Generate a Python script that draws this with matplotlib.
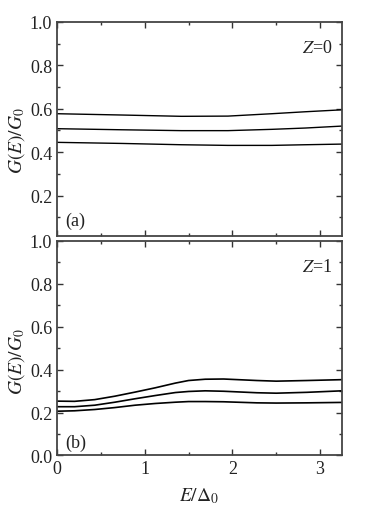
import matplotlib
matplotlib.use('Agg')
import matplotlib.pyplot as plt
from matplotlib.ticker import MultipleLocator, FormatStrFormatter

plt.rcParams['font.family'] = ['Liberation Serif', 'DejaVu Serif']
plt.rcParams['mathtext.fontset'] = 'stix'

# panel (a), Z=0
e_a = [0, 0.74, 1.42, 1.95, 2.45, 2.83, 3.25]
g_a_top = [0.577, 0.571, 0.565, 0.566, 0.577, 0.586, 0.595]
g_a_mid = [0.508, 0.503, 0.499, 0.499, 0.505, 0.511, 0.520]
g_a_bot = [0.445, 0.440, 0.434, 0.431, 0.431, 0.434, 0.437]

# panel (b), Z=1
e_b = [0, 0.2, 0.43, 0.66, 0.89, 1.12, 1.35, 1.5, 1.69, 1.9, 2.28, 2.5, 2.85, 3.25]
g_b_top = [0.253, 0.252, 0.260, 0.276, 0.295, 0.315, 0.337, 0.349, 0.355, 0.356, 0.349, 0.346, 0.349, 0.353]
g_b_mid = [0.227, 0.227, 0.234, 0.248, 0.264, 0.279, 0.293, 0.298, 0.301, 0.299, 0.292, 0.290, 0.294, 0.301]
g_b_bot = [0.206, 0.208, 0.214, 0.223, 0.234, 0.242, 0.248, 0.251, 0.251, 0.250, 0.245, 0.244, 0.245, 0.247]

fig = plt.figure(figsize=(3.8, 5.1), dpi=100)
ax1 = fig.add_axes([0.15, 0.536, 0.75, 0.419])
ax2 = fig.add_axes([0.15, 0.105, 0.75, 0.421])

for ax in (ax1, ax2):
    ax.set_xlim(0, 3.25)
    ax.xaxis.set_major_locator(MultipleLocator(1))
    ax.xaxis.set_minor_locator(MultipleLocator(0.5))
    ax.yaxis.set_major_locator(MultipleLocator(0.2))
    ax.yaxis.set_minor_locator(MultipleLocator(0.1))
    ax.tick_params(which='both', direction='in', top=True, right=True, labelsize=13,
                   width=1.0, color='#333333', labelcolor='#222222')
    ax.tick_params(which='major', length=4)
    ax.tick_params(which='minor', length=2.5)
    for s in ax.spines.values():
        s.set_linewidth(1.3)
        s.set_color('#444444')
    ax.yaxis.set_major_formatter(FormatStrFormatter('%.1f'))

for g in (g_a_top, g_a_mid, g_a_bot):
    ax1.plot(e_a, g, color='black', lw=1.0)
for g in (g_b_top, g_b_mid, g_b_bot):
    ax2.plot(e_b, g, color='black', lw=1.2)

ax1.set_ylim(0.015, 1.0)
ax1.set_yticks([0.2, 0.4, 0.6, 0.8, 1.0])
ax1.tick_params(labelbottom=False)
ax2.set_ylim(0, 1.0)

ax1.set_ylabel(r'$G(E)/G_0$', fontsize=14, color='#222222')
ax1.yaxis.set_label_coords(-0.105, 0.45)
ax2.set_ylabel(r'$G(E)/G_0$', fontsize=14, color='#222222')
ax2.yaxis.set_label_coords(-0.105, 0.44)

ax1.text(0.965, 0.88, r'$Z$=0', transform=ax1.transAxes, ha='right', va='center', fontsize=13, color='#222222')
ax2.text(0.965, 0.88, r'$Z$=1', transform=ax2.transAxes, ha='right', va='center', fontsize=13, color='#222222')
ax1.text(0.03, 0.07, '(a)', transform=ax1.transAxes, ha='left', va='center', fontsize=13, color='#222222')
ax2.text(0.03, 0.062, '(b)', transform=ax2.transAxes, ha='left', va='center', fontsize=13, color='#222222')

ax2.set_xlabel(r'$E/\Delta_0$', fontsize=14, labelpad=6, color='#222222')

fig.savefig('out.png', dpi=100)
